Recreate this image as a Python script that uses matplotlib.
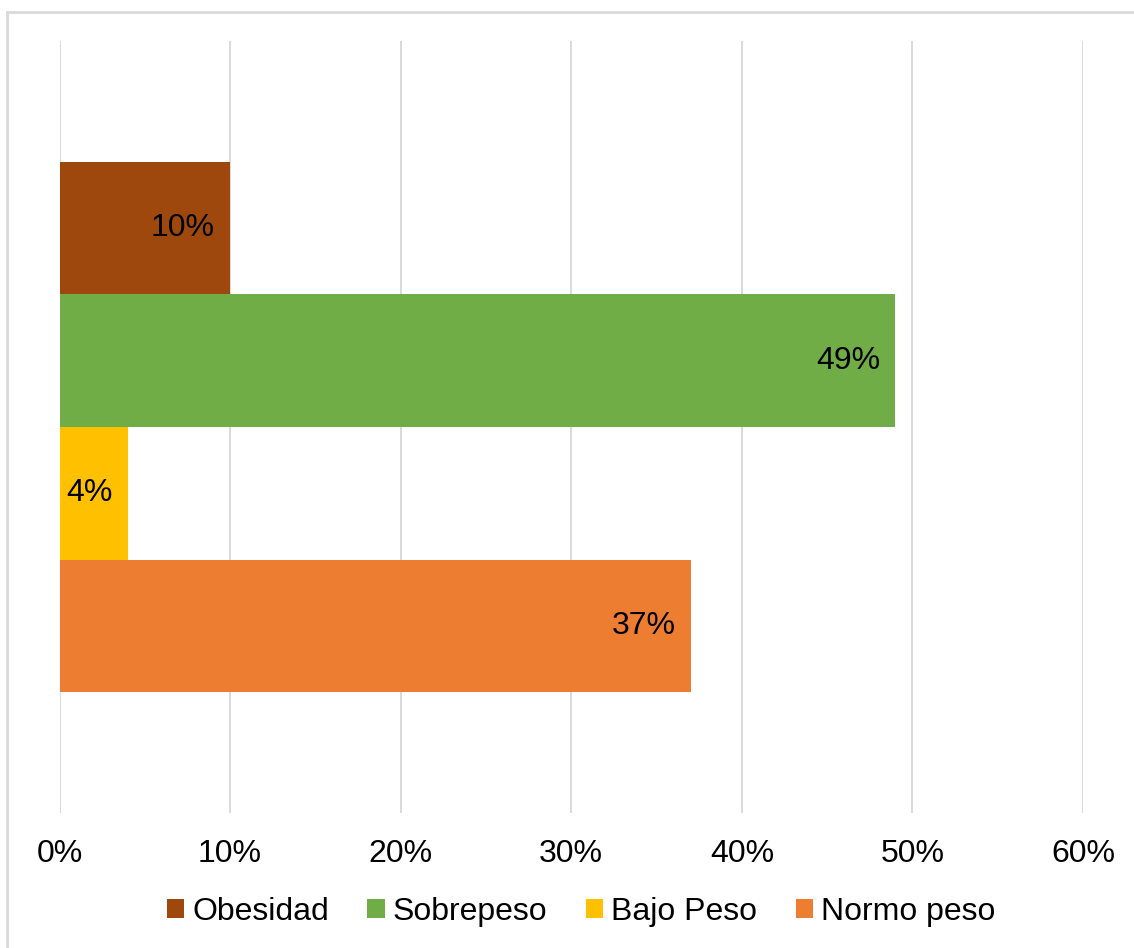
import matplotlib.pyplot as plt
from matplotlib.patches import Rectangle
from matplotlib.ticker import FuncFormatter

categorias = ['Obesidad', 'Sobrepeso', 'Bajo Peso', 'Normo peso']
porcentajes = [10, 49, 4, 37]
colores = ['#9E480E', '#70AD47', '#FFC000', '#ED7D31']
ticks_x = [0, 10, 20, 30, 40, 50, 60]

plt.rcParams['font.family'] = ['Liberation Sans', 'DejaVu Sans']

fig = plt.figure(figsize=(11.34, 9.48), dpi=100)
ax = fig.add_axes([59.5 / 1134, 1 - 813 / 948, (1083 - 59.5) / 1134, (813 - 41) / 948])

# marco gris del area del grafico (solo bordes superior e izquierdo visibles)
fig.patches.append(Rectangle((7 / 1134, -0.05), 1.2, 1 - 12 / 948 + 0.05,
                             transform=fig.transFigure, fill=False,
                             edgecolor='#D9D9D9', linewidth=2))

pos = list(range(len(categorias)))
barras = ax.barh(pos, porcentajes, height=1.0, color=colores, zorder=2)

for b, v in zip(barras, porcentajes):
    ax.annotate(f'{v}%', xy=(v, b.get_y() + b.get_height() / 2),
                xytext=(-15, 0), textcoords='offset pixels',
                ha='right', va='center', fontsize=23, color='black', zorder=3)

ax.set_xlim(0, 60)
ax.set_ylim(3.5 + 0.913, -0.5 - 0.913)
ax.set_xticks(ticks_x)
ax.xaxis.set_major_formatter(FuncFormatter(lambda x, _: f'{x:.0f}%'))
ax.tick_params(axis='x', length=0, pad=19, labelsize=23)
ax.set_yticks([])
ax.grid(axis='x', color='#D9D9D9', linewidth=1.4, zorder=1)
ax.set_axisbelow(True)
for s in ax.spines.values():
    s.set_visible(False)

fig.legend(handles=barras, labels=categorias, loc='center',
           bbox_to_anchor=(581 / 1134, 1 - 912 / 948), ncol=4, frameon=False,
           fontsize=23, handlelength=0.55, handleheight=0.55, handletextpad=0.25,
           columnspacing=1.2)

fig.savefig('out.png', dpi=100, facecolor='white')
